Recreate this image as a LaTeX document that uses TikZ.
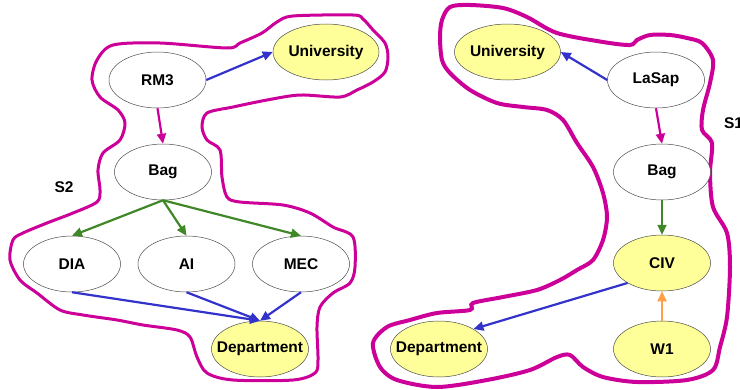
\documentclass[tikz,border=0pt]{standalone}
\usepackage{fontspec}
\setmainfont{Liberation Sans}
\usepackage{tikz}
\usetikzlibrary{arrows.meta, positioning, shapes.geometric}
\definecolor{blobpink}{RGB}{204,0,153}
\definecolor{arrblue}{RGB}{51,51,204}
\definecolor{arrgreen}{RGB}{64,135,40}
\definecolor{arrorange}{RGB}{255,160,70}
\definecolor{notefill}{RGB}{255,255,153}
\tikzset{
  plain/.style={ellipse, draw=black!70, line width=0.5pt, fill=white,
    minimum width=97pt, minimum height=56pt, inner sep=0pt,
    font=\fontsize{15.5}{18}\selectfont\bfseries},
  lit/.style={plain, fill=notefill},
  blob/.style={blobpink, line width=3pt},
  tag/.style={font=\fontsize{15.5}{18}\selectfont\bfseries},
}

\begin{document}
\begin{tikzpicture}[x=1pt, y=-1pt, >={Triangle[length=10pt,width=9pt]}, line width=2.2pt]
                \useasboundingbox (0,0) rectangle (740,389);
                % left outline
                \draw[blob] plot[smooth cycle, tension=0.5] coordinates {
                  (113,45) (160,43) (227,48) (240,43) (262,33) (277,22) (293,16)
                  (353,15) (363,19) (373,30) (385,43) (388,57) (385,72) (373,82)
                  (357,90) (340,97) (300,95) (267,100) (233,107) (207,113)
                  (202,127) (207,140) (220,150) (222,177) (227,197) (240,202)
                  (283,205) (310,213) (333,227) (353,237) (355,267) (350,283)
                  (333,293) (320,307) (317,327) (318,360) (315,373) (293,380)
                  (233,380) (207,373) (197,357) (190,337) (177,330) (143,325)
                  (117,320) (83,315) (60,310) (37,293) (20,280) (10,260)
                  (13,240) (23,233) (47,223) (73,213) (97,202) (100,190)
                  (98,170) (103,153) (120,140) (125,123) (118,110) (100,97)
                  (92,80) (97,60)};
                % right outline
                \draw[blob, line width=4pt] plot[smooth cycle, tension=0.5] coordinates {
                  (450,7) (442,20) (440,37) (442,60) (450,73) (470,90) (497,103)
                  (523,107) (547,110) (563,120) (577,143) (593,167) (603,193)
                  (607,217) (603,240) (593,260) (577,270) (560,280) (537,290)
                  (503,297) (473,303) (470,310) (437,313) (410,320) (387,327)
                  (373,343) (380,367) (397,380) (437,387) (487,380) (530,370)
                  (557,357) (570,355) (583,367) (603,377) (637,382) (687,380)
                  (713,370) (720,347) (727,317) (730,267) (727,233) (713,207)
                  (710,173) (712,143) (702,130) (703,110) (710,83) (713,60)
                  (702,43) (687,38) (670,35) (650,35) (637,40) (630,45)
                  (603,42) (557,33) (527,17) (503,8) (470,5)};
                % S2
                \node[plain] (rmthree) at (157.5,80) {RM3};
                \node[lit] (univA) at (326,52) {University};
                \node[plain] (bagA) at (163,172) {Bag};
                \node[plain] (dia) at (72,264) {DIA};
                \node[plain, right=17pt of dia] (ai) {AI};
                \node[plain, right=17pt of ai] (mec) {MEC};
                \node[lit] (deptA) at (260,349) {\makebox[0pt]{Department}};
                \node[tag] (stwo) at (64,187) {S2};
                \draw[->, arrblue] (rmthree.east) -- (univA.west);
                \draw[->, blobpink] (rmthree.south) -- (bagA.north);
                \draw[->, arrgreen] (bagA.south) -- (dia.north);
                \draw[->, arrgreen] (bagA.south) -- (ai.north);
                \draw[->, arrgreen] (bagA.south) -- (mec.north);
                \draw[->, arrblue] (dia.south) -- (deptA.north);
                \draw[->, arrblue] (ai.south) -- (deptA.north);
                \draw[->, arrblue] (mec.south) -- (deptA.north);
                % S1
                \node[lit] (univB) at (507.5,52) {University};
                \node[plain] (lasap) at (656,80) {LaSap};
                \node[plain] (bagB) at (662,172) {Bag};
                \node[lit] (civ) at (662,263) {CIV};
                \node[lit] (wone) at (662,349) {W1};
                \node[lit] (deptB) at (439,349) {\makebox[0pt]{Department}};
                \node[tag, anchor=west, inner sep=0pt] (sone) at (723,123) {S1};
                \draw[->, arrblue] (lasap.west) -- (univB.east);
                \draw[->, blobpink] (lasap.south) -- (bagB.north);
                \draw[->, arrgreen] (bagB.south) -- (civ.north);
                \draw[->, arrblue] (civ.south west) -- (deptB.north east);
                \draw[->, arrorange] (wone.north) -- (civ.south);
            \end{tikzpicture}
\end{document}
